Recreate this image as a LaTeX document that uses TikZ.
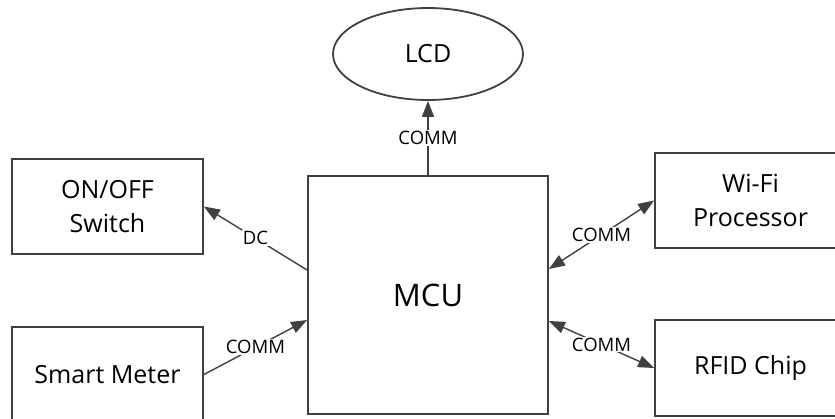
\documentclass[tikz,border=0pt]{standalone}
\usepackage{fontspec}
\setmainfont{Open Sans}
\usetikzlibrary{arrows.meta,shapes.geometric}
\definecolor{linec}{HTML}{404040}
\begin{document}
\begin{tikzpicture}[x=1pt,y=-1pt,
  blk/.style={draw=linec,line width=1.8pt,rectangle,inner sep=0pt,align=center,
    font=\fontsize{25}{34}\selectfont},
  conn/.style={draw=linec,line width=1.4pt},
  lab/.style={fill=white,inner sep=1pt,font=\fontsize{18.5}{20}\selectfont},
  tip/.style={-{Triangle[length=16pt,width=12pt]}},
  btip/.style={{Triangle[length=16pt,width=12pt]}-{Triangle[length=16pt,width=12pt]}}
]
\useasboundingbox (0,0) rectangle (835,418);
\node[blk,minimum width=240pt,minimum height=238pt,font=\fontsize{31}{36}\selectfont] (mcu) at (428,295) {MCU};
\node[blk,minimum width=191pt,minimum height=95pt] (onoff) at (107.5,206.5) {ON/OFF\\Switch};
\node[blk,minimum width=191pt,minimum height=95pt] (smart) at (107.5,374.5) {Smart Meter};
\node[blk,minimum width=191pt,minimum height=95pt] (wifi) at (750.5,200.5) {Wi-Fi\\Processor};
\node[blk,minimum width=191pt,minimum height=96pt] (rfid) at (750.5,368) {RFID Chip};
\node[blk,ellipse,minimum width=190pt,minimum height=92pt] (lcd) at (428,54) {LCD};

\draw[conn,tip] (mcu.north) -- node[lab]{COMM} (lcd.south);
\draw[conn,tip] ([yshift=25pt]mcu.west) -- node[lab]{DC} (onoff.east);
\draw[conn,tip] (smart.east) -- node[lab]{COMM} ([yshift=-25pt]mcu.west);
\draw[conn,btip] ([yshift=26pt]mcu.east) -- node[lab]{COMM} (wifi.west);
\draw[conn,btip] ([yshift=-26pt]mcu.east) -- node[lab]{COMM} (rfid.west);
\end{tikzpicture}
\end{document}
